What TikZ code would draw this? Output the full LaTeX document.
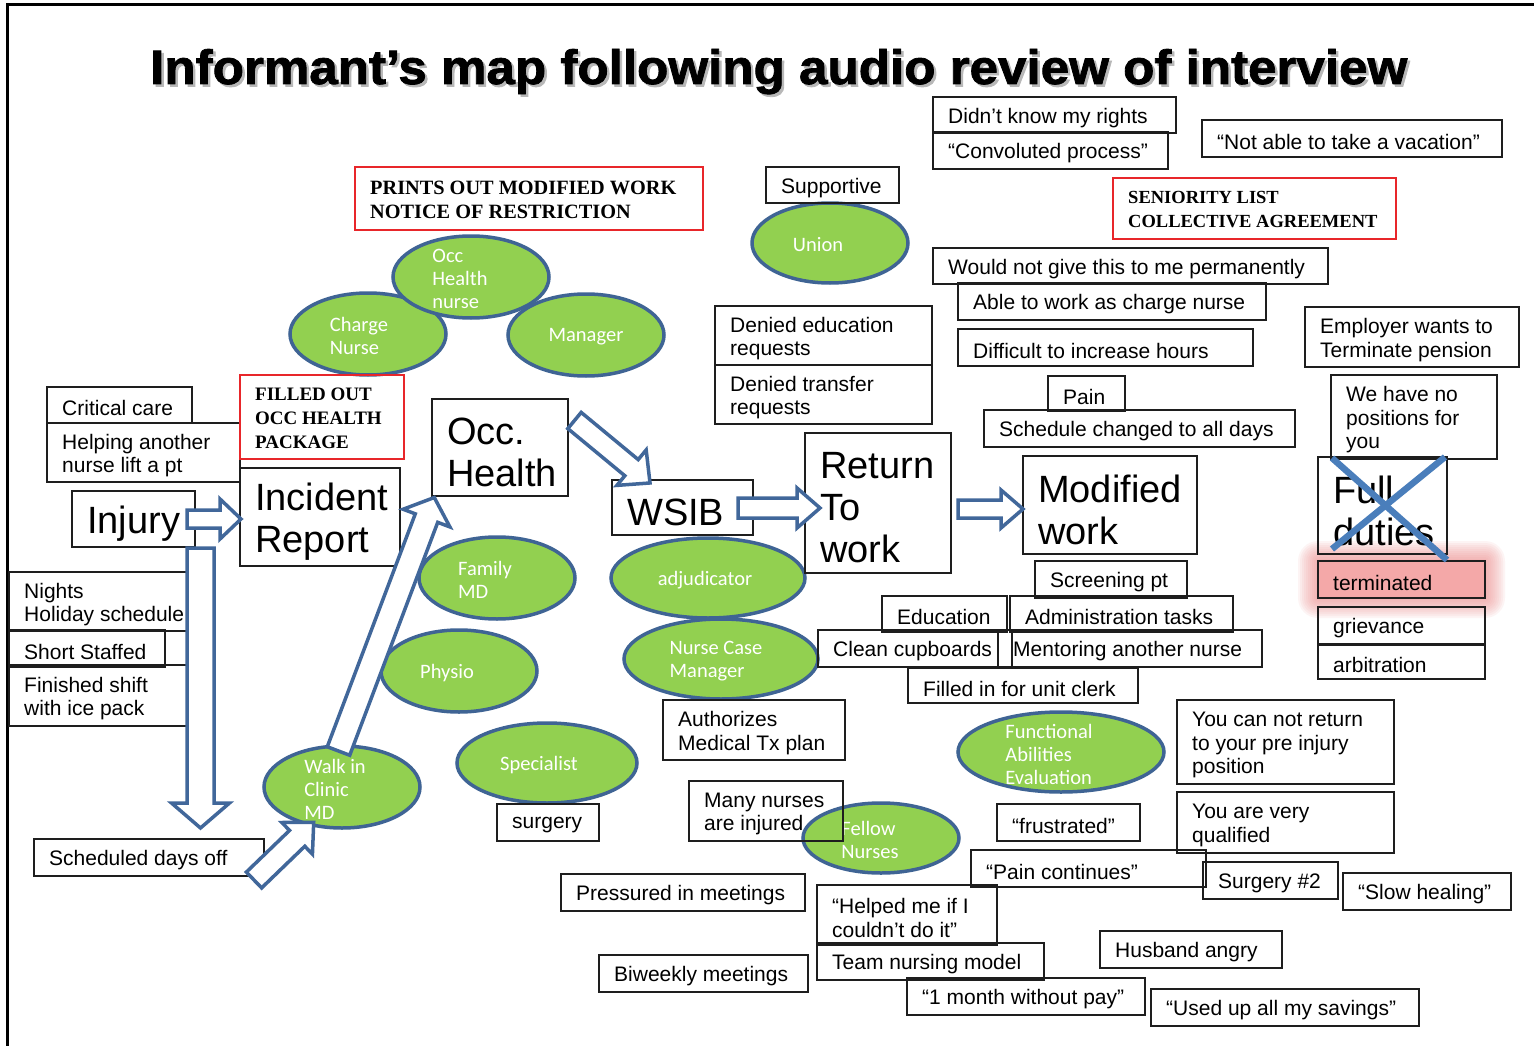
\documentclass[tikz,border=0pt]{standalone}
\usepackage{fontspec}
\setmainfont{Liberation Sans}
\newfontfamily\carl{Carlito}
\newfontfamily\stencilfont{Liberation Serif}
\newfontfamily\titlefont{Liberation Sans}[BoldFeatures={FakeBold=1.6}]
\usetikzlibrary{shapes.geometric,calc}

\definecolor{boxc}{HTML}{1E1E1E}
\definecolor{ellf}{HTML}{92D050}
\definecolor{ellc}{HTML}{3F6494}
\definecolor{arrc}{HTML}{41679A}
\definecolor{xc}{HTML}{4A7EBB}
\definecolor{glowc}{HTML}{EE8C8C}
\definecolor{termc}{HTML}{F4A8A8}
\definecolor{redc}{HTML}{E8262A}

\tikzset{
  bx/.style={rectangle, draw=boxc, line width=1.4pt, inner sep=0pt, outer sep=0pt, anchor=north west},
  rbx/.style={bx, draw=redc},
  tx/.style={anchor=west, inner sep=0pt, align=left, text=black, yshift=-3pt, font=\fontsize{21}{23.5}\selectfont},
  bigt/.style={yshift=-2pt, font=\fontsize{38}{42}\selectfont},
  redt/.style={yshift=2pt, font=\stencilfont\bfseries\fontsize{19}{24}\selectfont},
  el/.style={ellipse, draw=ellc, fill=ellf, line width=3.5pt, inner sep=0pt},
  eltx/.style={align=left, text=white, inner sep=0pt, yshift=-2pt, font=\carl\fontsize{20.5}{23}\selectfont},
  barr/.style={draw=arrc, fill=white, line width=3.5pt, line join=miter},
  xmark/.style={draw=xc, line width=6.5pt},
}

% framed text box: [box style]{name}{x}{y}{width}{height}{text style}{text}
\newcommand\tbox[8][bx]{%
  \node[#1, minimum width=#5pt, minimum height=#6pt] (#2) at (#3,#4) {};
  \node[tx,#7] (#2-t) at ([xshift=15pt]#2.west) {#8};}

% green ellipse: {name}{cx}{cy}{rx}{ry}{text shift}{text}
\newcommand\tell[7]{%
  \node[el, minimum width={2*#4pt}, minimum height={2*#5pt}] (#1) at (#2,#3) {};
  \node[eltx] (#1-t) at ([xshift=#6pt]#1.center) {#7};}

% hollow block arrow: {name}{x}{y}{angle}{length}{shaft half}{head half}{head length}
\newcommand\barrow[8]{%
  \coordinate (#1) at (#2,#3);
  \draw[barr, shift={(#1)}, rotate=#4]
    (0,-#6) -- ({#5-#8},-#6) -- ({#5-#8},-#7) -- (#5,0) --
    ({#5-#8},#7) -- ({#5-#8},#6) -- (0,#6) -- cycle;}

\begin{document}
\begin{tikzpicture}[x=1pt,y=-1pt]
\useasboundingbox (0,0) rectangle (1534,1046);
\fill[white] (0,0) rectangle (1534,1046);

% frame
\draw[line width=3pt] (7.5,1046) -- (7.5,4.5) -- (1534,4.5);

% title with soft shadow
\node[anchor=base west, inner sep=0pt, text=black!28] (titleshadow) at (152.5,86.5)
  {\resizebox{1257pt}{35pt}{\titlefont\bfseries Informant’s map following audio review of interview}};
\node[anchor=base west, inner sep=0pt] (title) at (150,84)
  {\resizebox{1257pt}{35pt}{\titlefont\bfseries Informant’s map following audio review of interview}};

% glow behind "terminated"
\foreach \d in {2,4,...,20} {
  \fill[glowc, opacity=0.09, rounded corners={\d pt}] ({1318-\d},{561-\d}) rectangle ({1485+\d},{598+\d});
}

% ellipses
\tell{union}{830}{243}{78}{40}{-12}{Union}
\tell{charge}{368}{334}{78}{41}{-9}{Charge\\Nurse}
\tell{ohn}{471}{277}{78}{41}{-11}{Occ\\Health\\nurse}
\tell{mgr}{586}{335}{78}{41}{0}{Manager}
\tell{fam}{497}{578}{78}{41}{-12}{Family\\MD}
\tell{physio}{459}{671}{78}{41}{-12}{Physio}
\tell{adj}{708}{578}{97}{40}{-3}{adjudicator}
\tell{ncm}{721}{659}{97}{40}{-5}{Nurse Case\\Manager}
\tell{walk}{342}{787}{78}{41}{-7}{Walk in\\Clinic\\MD}
\tell{spec}{547}{763}{90}{40}{-8}{Specialist}
\tell{fellow}{881}{838}{78}{35}{-11}{Fellow\\Nurses}
\tell{fae}{1061}{752}{103}{40}{-12}{Functional\\Abilities\\Evaluation}

% left column
\tbox{cc}{47}{387}{145}{36}{}{Critical care}
\tbox{help}{47}{423}{193}{59}{}{Helping another\\nurse lift a pt}
\tbox[rbx]{filled}{240}{375}{164}{84}{redt}{FILLED OUT\\OCC HEALTH\\PACKAGE}
\tbox{inj}{72}{491}{123}{56}{bigt}{Injury}
\tbox{incr}{240}{468}{160}{98}{bigt}{Incident\\Report}
\tbox{nights}{9}{572}{178}{59}{}{Nights\\Holiday schedule}
\tbox{ss}{9}{630}{156}{37}{}{Short Staffed}
\tbox{fin}{9}{665}{178}{61}{}{Finished shift\\with ice pack}
\tbox{sdo}{34}{839}{230}{37}{}{Scheduled days off}

% middle
\tbox[rbx]{prints}{355}{167}{348}{63}{redt, font=\stencilfont\bfseries\fontsize{20.3}{24}\selectfont}{PRINTS OUT MODIFIED WORK\\NOTICE OF RESTRICTION}
\tbox{sup}{766}{167}{133}{36}{}{Supportive}
\tbox{occ}{432}{399}{136}{97}{bigt}{Occ.\\Health}
\tbox{wsib}{612}{480}{141}{55}{bigt}{WSIB}
\tbox{rtw}{805}{433}{146}{140}{bigt}{Return\\To\\work}
\tbox{dedu}{715}{306}{217}{59}{}{Denied education\\requests}
\tbox{dtr}{715}{365}{217}{59}{}{Denied transfer\\requests}
\tbox{auth}{663}{700}{182}{60}{}{Authorizes\\Medical Tx plan}
\tbox{surg}{497}{804}{102}{37}{}{surgery}
\tbox{many}{689}{781}{154}{60}{}{Many nurses\\are injured}
\tbox{press}{561}{874}{244}{37}{}{Pressured in meetings}
\tbox{biw}{599}{955}{209}{37}{}{Biweekly meetings}
\tbox{helped}{817}{885}{180}{60}{}{“Helped me if I\\couldn’t do it”}
\tbox{team}{817}{943}{227}{37}{}{Team nursing model}
\tbox{month}{907}{978}{238}{37}{}{“1 month without pay”}

% right
\tbox{dk}{933}{97}{243}{36}{}{Didn’t know my rights}
\tbox{conv}{933}{132}{235}{37}{}{“Convoluted process”}
\tbox{vac}{1202}{120}{300}{37}{}{“Not able to take a vacation”}
\tbox[rbx]{sen}{1113}{178}{283}{61}{redt, font=\stencilfont\bfseries\fontsize{18.5}{24}\selectfont}{SENIORITY LIST\\COLLECTIVE AGREEMENT}
\tbox{wng}{933}{248}{395}{36}{}{Would not give this to me permanently}
\tbox{able}{958}{283}{308}{37}{}{Able to work as charge nurse}
\tbox{diff}{958}{329}{295}{37}{}{Difficult to increase hours}
\tbox{emp}{1305}{307}{214}{60}{}{Employer wants to\\Terminate pension}
\tbox{pain}{1048}{376}{77}{35}{}{Pain}
\tbox{sched}{984}{410}{311}{37}{}{Schedule changed to all days}
\tbox{mod}{1023}{456}{174}{98}{bigt}{Modified\\work}
\tbox{wehave}{1331}{375}{166}{84}{}{We have no\\positions for\\you}
\tbox{full}{1318}{457}{129}{97}{bigt}{Full\\duties}
\tbox[bx, fill=termc]{term}{1318}{561}{167}{37}{}{terminated}
\tbox{griev}{1318}{607}{167}{37}{}{grievance}
\tbox{arb}{1318}{645}{167}{34}{}{arbitration}
\tbox{scr}{1035}{561}{152}{37}{}{Screening pt}
\tbox{edu}{882}{596}{125}{36}{}{Education}
\tbox{adm}{1010}{596}{223}{36}{}{Administration tasks}
\tbox{ment}{998}{630}{264}{37}{}{Mentoring another nurse}
\tbox{clean}{818}{630}{194}{37}{}{Clean cupboards}
\tbox{unit}{908}{668}{230}{35}{}{Filled in for unit clerk}
\tbox{cannot}{1177}{700}{217}{84}{}{You can not return\\to your pre injury\\position}
\tbox{qual}{1177}{792}{217}{61}{}{You are very\\qualified}
\tbox{frus}{997}{804}{143}{37}{}{“frustrated”}
\tbox{painc}{971}{850}{235}{37}{}{“Pain continues”}
\tbox{surg2}{1203}{862}{135}{37}{}{Surgery \#2}
\tbox{slow}{1343}{873}{168}{37}{}{“Slow healing”}
\tbox{husb}{1100}{931}{182}{37}{}{Husband angry}
\tbox{sav}{1151}{989}{268}{37}{}{“Used up all my savings”}

% block arrows
\barrow{injtoinc}{187}{519}{0}{54}{9}{20}{21}
\barrow{injdown}{200.5}{548}{-90}{280}{13.5}{29}{25}
\barrow{walktoocc}{338.5}{751}{69.3}{271}{12}{25}{22}
\barrow{sdotowalk}{254}{880}{44}{83}{11}{22}{23}
\barrow{occtowsib}{574.5}{420.5}{-39.6}{98}{10.5}{23}{24}
\barrow{wsibtortw}{738}{508}{0}{82}{10}{20}{23}
\barrow{rtwtomod}{958}{509}{0}{65}{9}{19}{22}

% cross over "Full duties"
\coordinate (xa) at (1332,458);
\coordinate (xb) at (1447,560);
\coordinate (xc) at (1445,457);
\coordinate (xd) at (1332,549);
\draw[xmark] (xa) -- (xb);
\draw[xmark] (xc) -- (xd);
\end{tikzpicture}
\end{document}
